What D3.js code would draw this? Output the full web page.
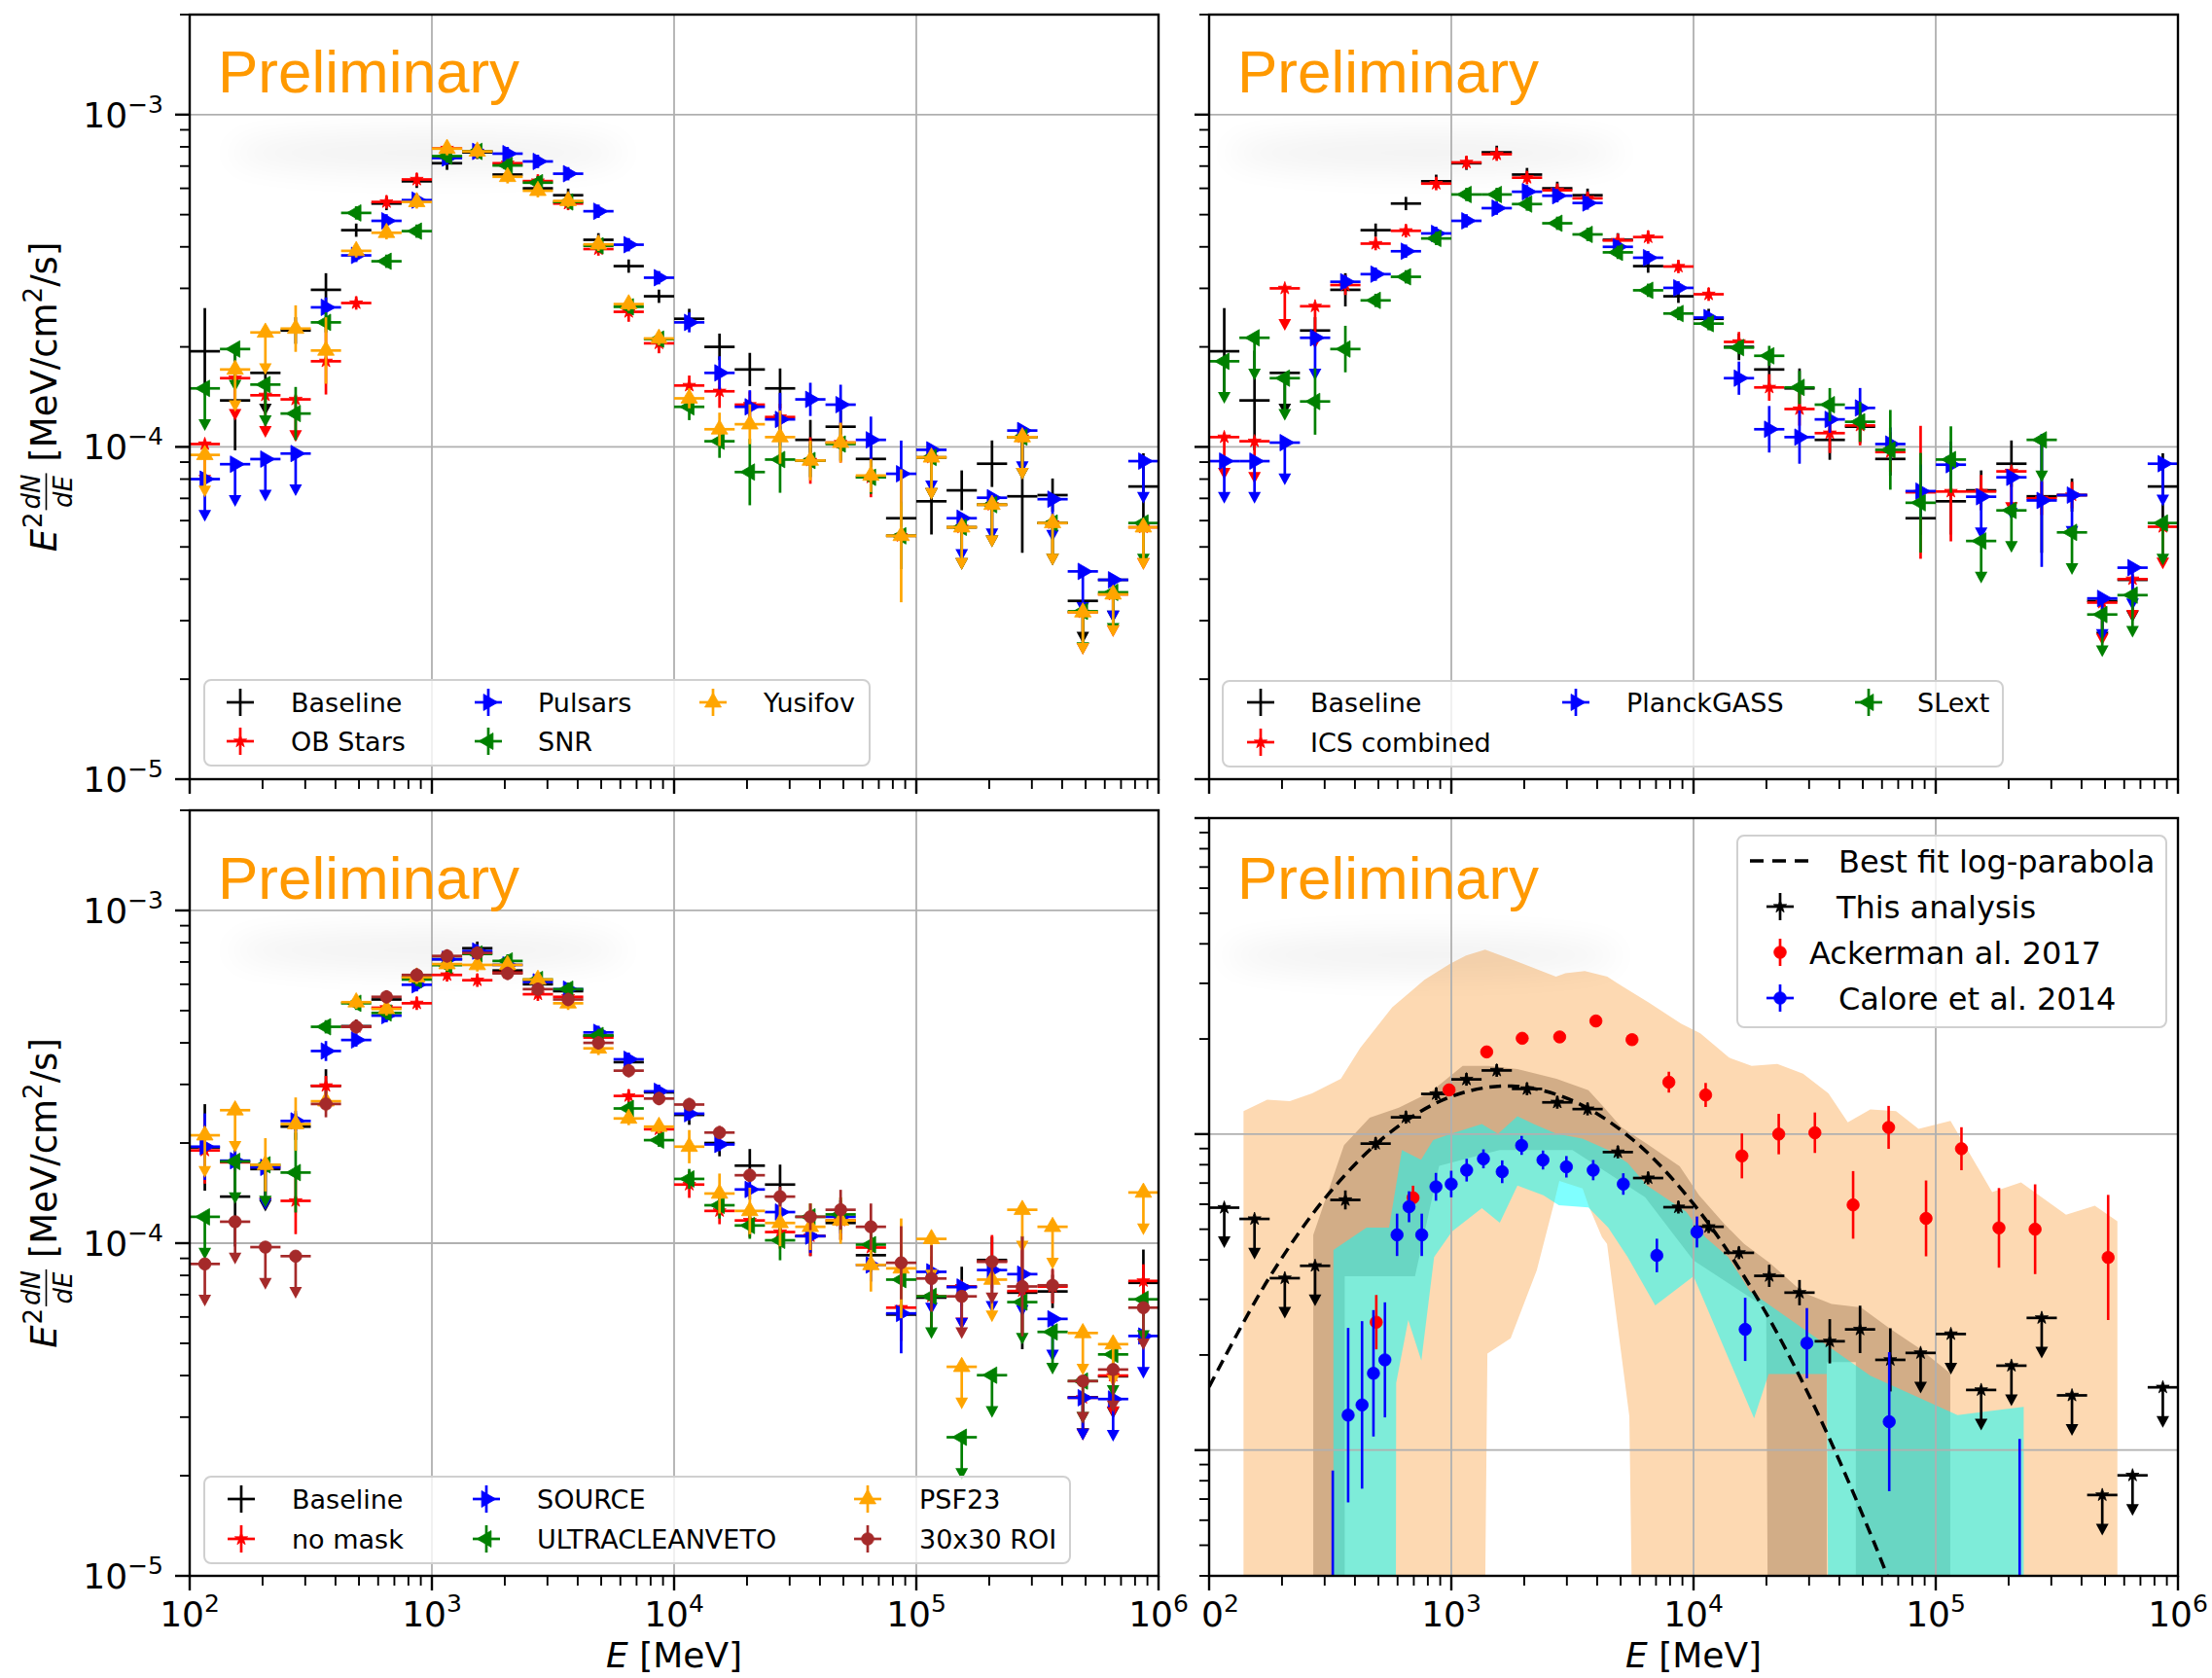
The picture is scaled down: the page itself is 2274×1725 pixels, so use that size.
<!DOCTYPE html>
<html>
<head>
<meta charset="utf-8">
<script src="https://cdn.jsdelivr.net/npm/d3@7"></script>
<style>
  body { margin: 0; background: #fff; }
  text { font-family: "DejaVu Sans", sans-serif; }
</style>
</head>
<body>
<svg id="fig"></svg>
<script>
const width = 2274, height = 1725;

// energy bins in MeV (8 per decade, 100 MeV - 1 TeV)
const binEdges = [100, 133.35, 177.83, 237.14, 316.23, 421.70, 562.34, 749.89,
  1000, 1333.5, 1778.3, 2371.4, 3162.3, 4217.0, 5623.4, 7498.9,
  10000, 13335, 17783, 23714, 31623, 42170, 56234, 74989,
  100000, 133352, 177828, 237137, 316228, 421697, 562341, 749894, 1000000];

// ---- shared baseline (E^2 dN/dE, MeV/cm2/s) ----
const baseline = [1.94e-4, 1.38e-4, 1.67e-4, 2.24e-4, 2.97e-4, 4.49e-4, 5.40e-4, 6.30e-4,
  7.14e-4, 7.70e-4, 6.60e-4, 6.00e-4, 5.72e-4, 4.20e-4, 3.50e-4, 2.84e-4,
  2.43e-4, 2.00e-4, 1.71e-4, 1.50e-4, 1.05e-4, 1.15e-4, 9.2e-5, 6.1e-5,
  6.86e-5, 7.4e-5, 8.9e-5, 7.1e-5, 7.16e-5, 3.44e-5, 3.98e-5, 7.6e-5];
const baselineErr = [0.13, 0.15, 0, 0.04, 0.05, 0.02, 0.02, 0.02,
  0.02, 0.02, 0.02, 0.02, 0.02, 0.02, 0.02, 0.02,
  0.03, 0.04, 0.05, 0.06, 0.06, 0.05, 0.05, 0.05,
  0.1, 0.06, 0.07, 0.17, 0.05, 0, 0, 0.1];
const baselineUL = [0,0,1,0,0,0,0,0, 0,0,0,0,0,0,0,0, 0,0,0,0,0,0,0,0, 0,0,0,0,0,1,1,0];

// ---- top left: source populations ----
const obStars = [1.02e-4, 1.61e-4, 1.43e-4, 1.39e-4, 1.81e-4, 2.71e-4, 5.46e-4, 6.38e-4,
  7.91e-4, 7.75e-4, 7.14e-4, 6.31e-4, 5.40e-4, 3.94e-4, 2.55e-4, 2.05e-4,
  1.53e-4, 1.47e-4, 1.34e-4, 1.23e-4, 9.1e-5, 1.03e-4, 8.1e-5, 5.4e-5,
  9.3e-5, 5.73e-5, 6.7e-5, 1.07e-4, 5.9e-5, 3.18e-5, 3.6e-5, 5.73e-5];
const obStarsErr = [0, 0, 0, 0, 0.1, 0.02, 0.02, 0.02,
  0.02, 0.02, 0.02, 0.02, 0.02, 0.02, 0.03, 0.03,
  0.03, 0.05, 0.04, 0.04, 0.07, 0.06, 0.06, 0.1,
  0, 0, 0, 0, 0, 0, 0, 0];
const obStarsUL = [1,1,1,1,0,0,0,0, 0,0,0,0,0,0,0,0, 0,0,0,0,0,0,0,0, 1,1,1,1,1,1,1,1];

const pulsars = [8.0e-5, 8.87e-5, 9.19e-5, 9.55e-5, 2.63e-4, 3.77e-4, 4.79e-4, 5.53e-4,
  7.40e-4, 7.75e-4, 7.63e-4, 7.23e-4, 6.64e-4, 5.12e-4, 4.06e-4, 3.23e-4,
  2.37e-4, 1.67e-4, 1.32e-4, 1.21e-4, 1.39e-4, 1.34e-4, 1.05e-4, 8.3e-5,
  9.8e-5, 6.1e-5, 7.03e-5, 1.12e-4, 6.96e-5, 4.22e-5, 3.98e-5, 9.06e-5];
const pulsarsErr = [0, 0, 0, 0, 0.03, 0.02, 0.02, 0.02,
  0.02, 0.02, 0.02, 0.02, 0.02, 0.02, 0.02, 0.02,
  0.03, 0.05, 0.05, 0.08, 0.05, 0.06, 0.07, 0.1,
  0, 0, 0, 0, 0, 0, 0, 0];
const pulsarsUL = [1,1,1,1,0,0,0,0, 0,0,0,0,0,0,0,0, 0,0,0,0,0,0,0,0, 1,1,1,1,1,1,1,1];

const snr = [1.5e-4, 1.97e-4, 1.54e-4, 1.26e-4, 2.37e-4, 5.06e-4, 3.62e-4, 4.46e-4,
  7.50e-4, 7.75e-4, 7.03e-4, 6.24e-4, 5.46e-4, 4.03e-4, 2.64e-4, 2.11e-4,
  1.32e-4, 1.04e-4, 8.4e-5, 9.16e-5, 9.1e-5, 1.02e-4, 8.1e-5, 5.4e-5,
  9.3e-5, 5.73e-5, 6.7e-5, 1.07e-4, 5.9e-5, 3.2e-5, 3.65e-5, 5.9e-5];
const snrErr = [0, 0, 0, 0.08, 0.03, 0.02, 0.02, 0.02,
  0.02, 0.02, 0.02, 0.02, 0.02, 0.02, 0.02, 0.02,
  0.04, 0.05, 0.1, 0.1, 0.05, 0.05, 0.05, 0.1,
  0, 0, 0, 0, 0, 0, 0, 0];
const snrUL = [1,1,1,0,0,0,0,0, 0,0,0,0,0,0,0,0, 0,0,0,0,0,0,0,0, 1,1,1,1,1,1,1,1];

const yusifov = [9.46e-5, 1.71e-4, 2.21e-4, 2.27e-4, 1.95e-4, 3.89e-4, 4.41e-4, 5.46e-4,
  7.90e-4, 7.75e-4, 6.50e-4, 5.90e-4, 5.50e-4, 4.07e-4, 2.69e-4, 2.12e-4,
  1.40e-4, 1.13e-4, 1.17e-4, 1.07e-4, 9.1e-5, 1.03e-4, 8.2e-5, 5.4e-5,
  9.3e-5, 5.73e-5, 6.7e-5, 1.07e-4, 5.9e-5, 3.18e-5, 3.6e-5, 5.73e-5];
const yusifovErr = [0, 0, 0, 0.07, 0.1, 0.02, 0.02, 0.02,
  0.02, 0.02, 0.02, 0.02, 0.02, 0.02, 0.02, 0.02,
  0.03, 0.05, 0.06, 0.08, 0.06, 0.06, 0.05, 0.2,
  0, 0, 0, 0, 0, 0, 0, 0];
const yusifovUL = [1,1,1,0,0,0,0,0, 0,0,0,0,0,0,0,0, 0,0,0,0,0,0,0,0, 1,1,1,1,1,1,1,1];

// ---- top right: gas / ICS models ----
const icsCombined = [1.07e-4, 1.04e-4, 3.0e-4, 2.65e-4, 3.07e-4, 4.09e-4, 4.47e-4, 6.20e-4,
  7.18e-4, 7.60e-4, 6.46e-4, 5.92e-4, 5.60e-4, 4.18e-4, 4.28e-4, 3.49e-4,
  2.88e-4, 2.07e-4, 1.51e-4, 1.30e-4, 1.10e-4, 1.16e-4, 9.65e-5, 7.3e-5,
  7.34e-5, 7.34e-5, 8.44e-5, 7.0e-5, 7.16e-5, 3.4e-5, 4.0e-5, 5.75e-5];
const icsErr = [0, 0, 0, 0, 0.03, 0.02, 0.02, 0.02,
  0.02, 0.02, 0.02, 0.02, 0.02, 0.02, 0.02, 0.02,
  0.02, 0.03, 0.04, 0.05, 0.06, 0.06, 0.06, 0.2,
  0.15, 0.05, 0, 0.05, 0.04, 0, 0, 0];
const icsUL = [1,1,1,1,0,0,0,0, 0,0,0,0,0,0,0,0, 0,0,0,0,0,0,0,0, 0,0,1,0,0,1,1,1];

const planckGass = [9.06e-5, 9.06e-5, 1.03e-4, 2.13e-4, 3.14e-4, 3.31e-4, 3.88e-4, 4.39e-4,
  4.79e-4, 5.23e-4, 5.86e-4, 5.70e-4, 5.42e-4, 4.00e-4, 3.71e-4, 3.01e-4,
  2.45e-4, 1.61e-4, 1.13e-4, 1.07e-4, 1.21e-4, 1.31e-4, 1.02e-4, 7.36e-5,
  8.84e-5, 7.08e-5, 8.1e-5, 6.9e-5, 7.16e-5, 3.5e-5, 4.33e-5, 8.9e-5];
const planckErr = [0, 0, 0, 0, 0.02, 0.02, 0.02, 0.02,
  0.02, 0.02, 0.02, 0.02, 0.02, 0.02, 0.02, 0.02,
  0.02, 0.05, 0.07, 0.08, 0.04, 0.06, 0.05, 0.08,
  0.07, 0, 0, 0.2, 0, 0, 0, 0];
const planckUL = [1,1,1,1,0,0,0,0, 0,0,0,0,0,0,0,0, 0,0,0,0,0,0,0,0, 0,1,1,0,1,1,1,1];

const slExt = [1.81e-4, 2.13e-4, 1.61e-4, 1.37e-4, 1.97e-4, 2.76e-4, 3.25e-4, 4.24e-4,
  5.75e-4, 5.75e-4, 5.38e-4, 4.71e-4, 4.36e-4, 3.85e-4, 2.96e-4, 2.52e-4,
  2.35e-4, 1.99e-4, 1.88e-4, 1.51e-4, 1.34e-4, 1.19e-4, 9.8e-5, 6.79e-5,
  9.16e-5, 5.21e-5, 6.44e-5, 1.05e-4, 5.53e-5, 3.13e-5, 3.58e-5, 5.9e-5];
const slErr = [0, 0, 0, 0.1, 0.07, 0.02, 0.02, 0.02,
  0.02, 0.02, 0.02, 0.02, 0.02, 0.02, 0.02, 0.02,
  0.02, 0.02, 0.03, 0.05, 0.05, 0.06, 0.12, 0.15,
  0.1, 0, 0, 0, 0, 0, 0, 0];
const slUL = [1,1,1,0,0,0,0,0, 0,0,0,0,0,0,0,0, 0,0,0,0,0,0,0,0, 0,1,1,1,1,1,1,1];

// ---- bottom left: data selection ----
const noMask = [1.9e-4, 1.75e-4, 1.7e-4, 1.34e-4, 2.97e-4, 4.47e-4, 5.10e-4, 5.26e-4,
  6.40e-4, 6.17e-4, 6.50e-4, 5.60e-4, 5.50e-4, 4.15e-4, 2.77e-4, 2.20e-4,
  1.50e-4, 1.25e-4, 1.17e-4, 1.08e-4, 1.05e-4, 1.17e-4, 9.7e-5, 6.4e-5,
  6.92e-5, 7.4e-5, 8.8e-5, 7.18e-5, 7.4e-5, 3.43e-5, 4.0e-5, 7.7e-5];
const noMaskErr = [0.1, 0.03, 0, 0.1, 0.03, 0.02, 0.02, 0.02,
  0.02, 0.02, 0.02, 0.02, 0.02, 0.02, 0.02, 0.02,
  0.04, 0.04, 0.05, 0.05, 0.06, 0.06, 0.06, 0.1,
  0.12, 0, 0.08, 0.15, 0.05, 0, 0, 0.05];
const noMaskUL = [0,0,1,0,0,0,0,0, 0,0,0,0,0,0,0,0, 0,0,0,0,0,0,0,0, 0,1,0,0,0,1,1,0];

const source = [1.95e-4, 1.77e-4, 1.69e-4, 2.33e-4, 3.78e-4, 4.08e-4, 4.83e-4, 5.98e-4,
  7.13e-4, 7.55e-4, 6.86e-4, 6.10e-4, 5.80e-4, 4.30e-4, 3.57e-4, 2.86e-4,
  2.45e-4, 1.98e-4, 1.45e-4, 1.24e-4, 1.05e-4, 1.20e-4, 8.6e-5, 6.15e-5,
  8.2e-5, 7.38e-5, 8.3e-5, 8.07e-5, 5.92e-5, 3.43e-5, 3.4e-5, 5.26e-5];
const sourceErr = [0.1, 0.03, 0, 0.03, 0.03, 0.02, 0.02, 0.02,
  0.02, 0.02, 0.02, 0.02, 0.02, 0.02, 0.02, 0.02,
  0.02, 0.02, 0.03, 0.04, 0.05, 0.05, 0.05, 0.12,
  0, 0, 0, 0, 0, 0, 0, 0];
const sourceUL = [0,0,1,0,0,0,0,0, 0,0,0,0,0,0,0,0, 0,0,0,0,0,0,0,0, 1,1,1,1,1,1,1,1];

const ultraclean = [1.2e-4, 1.76e-4, 1.72e-4, 1.63e-4, 4.47e-4, 5.26e-4, 4.92e-4, 6.20e-4,
  6.85e-4, 7.40e-4, 7.05e-4, 6.20e-4, 5.80e-4, 4.21e-4, 2.54e-4, 2.04e-4,
  1.56e-4, 1.30e-4, 1.13e-4, 1.02e-4, 1.20e-4, 1.22e-4, 9.9e-5, 7.77e-5,
  6.92e-5, 2.61e-5, 4.01e-5, 6.65e-5, 5.41e-5, 3.85e-5, 4.63e-5, 6.78e-5];
const ultracleanErr = [0, 0, 0, 0.12, 0.02, 0.02, 0.02, 0.02,
  0.02, 0.02, 0.02, 0.02, 0.02, 0.02, 0.02, 0.02,
  0.03, 0.04, 0.04, 0.06, 0.04, 0.05, 0.05, 0.1,
  0, 0, 0, 0, 0, 0, 0, 0];
const ultracleanUL = [1,1,1,0,0,0,0,0, 0,0,0,0,0,0,0,0, 0,0,0,0,0,0,0,0, 1,1,1,1,1,1,1,1];

const psf23 = [2.11e-4, 2.51e-4, 1.72e-4, 2.28e-4, 2.67e-4, 5.30e-4, 5.06e-4, 6.30e-4,
  6.90e-4, 6.86e-4, 6.86e-4, 6.20e-4, 5.26e-4, 3.85e-4, 2.37e-4, 2.24e-4,
  1.95e-4, 1.41e-4, 1.25e-4, 1.15e-4, 1.12e-4, 1.17e-4, 8.6e-5, 8.4e-5,
  1.03e-4, 4.25e-5, 7.77e-5, 1.26e-4, 1.12e-4, 5.37e-5, 4.97e-5, 1.42e-4];
const psf23Err = [0, 0, 0.08, 0.08, 0.03, 0.02, 0.02, 0.02,
  0.02, 0.02, 0.02, 0.02, 0.02, 0.02, 0.02, 0.02,
  0.05, 0.06, 0.07, 0.07, 0.07, 0.07, 0.08, 0.15,
  0, 0, 0, 0, 0, 0, 0, 0];
const psf23UL = [1,1,0,0,0,0,0,0, 0,0,0,0,0,0,0,0, 0,0,0,0,0,0,0,0, 1,1,1,1,1,1,1,1];

const roi30 = [8.66e-5, 1.16e-4, 9.73e-5, 9.14e-5, 2.62e-4, 4.47e-4, 5.50e-4, 6.40e-4,
  7.30e-4, 7.45e-4, 6.47e-4, 5.80e-4, 5.40e-4, 4.00e-4, 3.30e-4, 2.72e-4,
  2.61e-4, 2.15e-4, 1.60e-4, 1.38e-4, 1.20e-4, 1.26e-4, 1.12e-4, 8.73e-5,
  7.83e-5, 6.92e-5, 8.8e-5, 7.41e-5, 7.47e-5, 3.85e-5, 4.17e-5, 6.4e-5];
const roi30Err = [0, 0, 0, 0, 0.04, 0.02, 0.02, 0.02,
  0.02, 0.02, 0.02, 0.02, 0.02, 0.02, 0.02, 0.02,
  0.02, 0.02, 0.02, 0.03, 0.04, 0.06, 0.07, 0.11,
  0.1, 0, 0, 0.15, 0.05, 0, 0, 0];
const roi30UL = [1,1,1,1,0,0,0,0, 0,0,0,0,0,0,0,0, 0,0,0,0,0,0,0,0, 0,1,1,0,0,1,1,1];

// ---- bottom right: comparison (arbitrary flux units) ----
const thisAnalysis = [5.85e-7, 5.39e-7, 3.50e-7, 3.83e-7, 6.19e-7, 9.33e-7, 1.13e-6, 1.34e-6,
  1.49e-6, 1.59e-6, 1.39e-6, 1.26e-6, 1.20e-6, 8.77e-7, 7.26e-7, 5.87e-7,
  5.09e-7, 4.21e-7, 3.56e-7, 3.15e-7, 2.21e-7, 2.41e-7, 1.93e-7, 2.03e-7,
  2.33e-7, 1.55e-7, 1.85e-7, 2.62e-7, 1.49e-7, 7.21e-8, 8.32e-8, 1.58e-7];
const thisErr = [0, 0, 0, 0, 0.03, 0.02, 0.02, 0.02,
  0.02, 0.02, 0.02, 0.02, 0.02, 0.02, 0.02, 0.02,
  0.02, 0.02, 0.035, 0.04, 0.07, 0.075, 0.1, 0,
  0, 0, 0, 0, 0, 0, 0, 0];
const thisUL = [1,1,1,1,0,0,0,0, 0,0,0,0,0,0,0,0, 0,0,0,0,0,0,0,1, 1,1,1,1,1,1,1,1];

const ackE = [490, 695, 979, 1400, 1962, 2801, 3953, 5573, 7910, 11220,
  15840, 22480, 31700, 45590, 63900, 91200, 127700, 182400, 257200, 515000];
const ackV = [2.54e-7, 6.29e-7, 1.38e-6, 1.82e-6, 2.01e-6, 2.03e-6, 2.28e-6, 1.99e-6, 1.46e-6, 1.33e-6,
  8.53e-7, 1.0e-6, 1.01e-6, 5.97e-7, 1.05e-6, 5.41e-7, 8.99e-7, 5.05e-7, 5.0e-7, 4.07e-7];
const ackErr = [0.086, 0.038, 0, 0, 0, 0, 0, 0, 0.033, 0.038,
  0.071, 0.064, 0.064, 0.107, 0.068, 0.12, 0.068, 0.126, 0.142, 0.198];

const caloreE = [324, 375, 428, 477, 532, 597, 669, 755, 864, 999, 1157, 1357,
  1622, 1951, 2390, 2986, 3853, 5129, 7056, 10330, 16340, 29370, 64270, 222000];
const caloreV = [2.6e-8, 1.29e-7, 1.39e-7, 1.75e-7, 1.93e-7, 4.8e-7, 5.89e-7, 4.8e-7, 6.81e-7, 6.95e-7, 7.69e-7, 8.35e-7,
  7.6e-7, 9.21e-7, 8.28e-7, 7.88e-7, 7.69e-7, 6.95e-7, 4.13e-7, 4.9e-7, 2.41e-7, 2.18e-7, 1.23e-7, 3.2e-8];
const caloreErr = [0.52, 0.276, 0.265, 0.2, 0.182, 0.067, 0.049, 0.067, 0.044, 0.042, 0.036, 0.03,
  0.036, 0.03, 0.03, 0.034, 0.032, 0.034, 0.053, 0.049, 0.1, 0.111, 0.22, 0.53];

// best fit log-parabola
const fitE = [100, 177.8, 316.2, 562.3, 1000, 1778, 3162, 5623, 10000, 17783, 31623, 56234, 79433];
const fitV = [1.585e-7, 3.53e-7, 6.56e-7, 1.016e-6, 1.315e-6, 1.419e-6, 1.276e-6, 9.59e-7, 6.01e-7, 3.15e-7, 1.37e-7, 5.0e-8, 2.5e-8];

// uncertainty bands: upper and lower edges (1e-8 = below the frame)
const peachUpE = [138.7, 173.8, 215.3, 266.1, 349.9, 420.7, 570.2, 774.5, 988.6, 1151, 1380, 1816, 2704, 2958, 3556, 4406, 4831,
  6546, 8872, 10666, 14028, 17378, 22182, 28314, 36058, 43351, 53703, 68549, 84918, 115080, 171000, 224900, 345100, 453900, 562300];
const peachUpV = [1.183e-6, 1.285e-6, 1.271e-6, 1.346e-6, 1.496e-6, 1.875e-6, 2.518e-6, 3.076e-6, 3.459e-6, 3.673e-6, 3.837e-6, 3.548e-6, 3.148e-6, 3.228e-6, 3.281e-6, 3.148e-6, 3.006e-6,
  2.606e-6, 2.239e-6, 2.084e-6, 1.746e-6, 1.644e-6, 1.667e-6, 1.552e-6, 1.346e-6, 1.089e-6, 1.197e-6, 1.183e-6, 1.038e-6, 1.102e-6, 6.55e-7, 7.03e-7, 5.56e-7, 5.93e-7, 5.30e-7];
const peachLoE = [138.7, 1358, 1409, 1758, 2254, 2642, 2793, 3483, 3681, 4188, 4395, 5433, 5689, 562300];
const peachLoV = [1e-8, 1e-8, 2.02e-7, 2.26e-7, 3.71e-7, 5.96e-7, 7.11e-7, 6.73e-7, 5.96e-7, 4.72e-7, 4.49e-7, 1.28e-7, 1e-8, 1e-8];

const brownUpE = [269.2, 269.2, 360.6, 460.3, 606.7, 822.2, 1114, 1422, 1875, 2716, 3681, 4178, 5035, 6412, 8770,
  10544, 13459, 16181, 20749, 28314, 37154, 49091, 64417, 84918, 114815];
const brownUpV = [1e-8, 4.8e-7, 9.23e-7, 1.127e-6, 1.211e-6, 1.361e-6, 1.644e-6, 1.644e-6, 1.607e-6, 1.496e-6, 1.377e-6, 1.239e-6, 1.052e-6, 9.33e-7, 7.91e-7,
  6.4e-7, 5.18e-7, 4.49e-7, 3.9e-7, 3.15e-7, 2.9e-7, 2.83e-7, 2.43e-7, 2.11e-7, 1.75e-7];
const brownLoE = [269.2, 363, 363, 708, 891, 1585, 3162, 6310, 10000, 19953, 20400, 35481, 35481, 46774, 46774, 114815];
const brownLoV = [1e-8, 1e-8, 3.55e-7, 3.55e-7, 7.94e-7, 8.91e-7, 8.91e-7, 6.31e-7, 3.98e-7, 2.82e-7, 1e-8, 1e-8, 1.9e-7, 1.9e-7, 1e-8, 1e-8];

const cyanUpE = [326, 326, 446.7, 553.4, 625.2, 749.9, 841.4, 997.7, 1337, 1560, 1875, 2188, 2716, 3475, 4446, 5346,
  6427, 7745, 9311, 11194, 13900, 17100, 53703, 123000, 230700];
const cyanUpV = [1e-8, 4.3e-7, 5.06e-7, 5.06e-7, 8.91e-7, 8.3e-7, 9.57e-7, 1.002e-6, 1.076e-6, 1.002e-6, 1.140e-6, 1.076e-6, 1.002e-6, 9.68e-7, 8.91e-7, 8.11e-7,
  6.87e-7, 6.25e-7, 5.69e-7, 4.71e-7, 4.08e-7, 3.18e-7, 1.72e-7, 1.29e-7, 1.37e-7];
const cyanLoE = [326, 589, 592, 664, 752, 849, 1009, 1337, 1585, 1875, 2399, 2780, 3681, 4446, 5346, 6950, 10000,
  17783, 20417, 35481, 36300, 230700];
const cyanLoV = [1e-8, 1e-8, 1.63e-7, 2.58e-7, 1.92e-7, 4.08e-7, 4.93e-7, 5.83e-7, 5.24e-7, 6.87e-7, 6.4e-7, 5.96e-7, 5.86e-7, 5.06e-7, 4.08e-7, 2.87e-7, 3.55e-7,
  1.26e-7, 1.74e-7, 1.74e-7, 1e-8, 1e-8];

// ------------------------------------------------------------------
const svg = d3.select('#fig').attr('width', width).attr('height', height);
svg.append('rect').attr('width', width).attr('height', height).attr('fill', '#fff');
const defs = svg.append('defs');
defs.append('filter').attr('id', 'smudge')
  .attr('x', '-50%').attr('y', '-300%').attr('width', '200%').attr('height', '700%')
  .append('feGaussianBlur').attr('stdDeviation', 16);

const centers = binEdges.slice(0, -1).map((e, i) => Math.sqrt(e * binEdges[i + 1]));

const panels = {
  tl: {x: [195, 1191], y: [801, 15], yDom: [1e-5, 2e-3], xlab: false, ylab: true, prelim: [224, 95], smudge: [440, 157]},
  tr: {x: [1243, 2239], y: [801, 15], yDom: [1e-5, 2e-3], xlab: false, ylab: false, prelim: [1272, 95], smudge: [1465, 157]},
  bl: {x: [195, 1191], y: [1620, 833], yDom: [1e-5, 2e-3], xlab: true, ylab: true, prelim: [224, 924], smudge: [440, 977]},
  br: {x: [1243, 2239], y: [1620, 841], yDom: [4e-8, 1e-5], xlab: true, ylab: false, prelim: [1272, 924], smudge: [1462, 982]}
};

Object.entries(panels).forEach(([k, p]) => {
  p.xs = d3.scaleLog().domain([1e2, 1e6]).range(p.x);
  p.ys = d3.scaleLog().domain(p.yDom).range(p.y);
  defs.append('clipPath').attr('id', 'clip-' + k).append('rect')
    .attr('x', p.x[0]).attr('y', p.y[1]).attr('width', p.x[1] - p.x[0]).attr('height', p.y[0] - p.y[1]);
  p.g = svg.append('g');
  p.back = p.g.append('g').attr('clip-path', `url(#clip-${k})`);
  p.gridG = p.g.append('g');
  p.data = p.g.append('g').attr('clip-path', `url(#clip-${k})`);
  p.front = p.g.append('g');
});

function decades(dom) {
  const out = [];
  for (let k = Math.ceil(Math.log10(dom[0]) - 1e-9); k <= Math.floor(Math.log10(dom[1]) + 1e-9); k++) out.push(Math.pow(10, k));
  return out;
}
function minors(dom) {
  const out = [];
  for (let k = Math.floor(Math.log10(dom[0]) + 1e-9); k <= Math.floor(Math.log10(dom[1]) + 1e-9); k++) {
    for (let m = 2; m <= 9; m++) {
      const v = m * Math.pow(10, k);
      if (v >= dom[0] * 0.999 && v <= dom[1] * 1.001) out.push(v);
    }
  }
  return out;
}
function line(g, x1, y1, x2, y2, color, w) {
  return g.append('line').attr('x1', x1).attr('y1', y1).attr('x2', x2).attr('y2', y2)
    .attr('stroke', color).attr('stroke-width', w || 2.7);
}
function marker(g, cx, cy, type, color) {
  if (!type) return;
  let sym, size, rot = 0;
  if (type === '*') { sym = d3.symbolStar; size = 55; }
  else if (type === '^') { sym = d3.symbolTriangle; size = 125; }
  else if (type === '>') { sym = d3.symbolTriangle; size = 125; rot = 90; }
  else if (type === '<') { sym = d3.symbolTriangle; size = 125; rot = -90; }
  else if (type === 'o') { sym = d3.symbolCircle; size = 125; }
  g.append('path').attr('d', d3.symbol(sym, size)())
    .attr('transform', `translate(${cx},${cy}) rotate(${rot})`)
    .attr('fill', color).attr('stroke', color).attr('stroke-width', 0.8);
}
function caret(g, cx, tip, color) {
  g.append('path').attr('d', `M${cx - 6.5},${tip - 11}L${cx + 6.5},${tip - 11}L${cx},${tip + 1}Z`).attr('fill', color);
}

// binned series with horizontal bars and upper limits
function drawBinned(p, s) {
  const g = p.data.append('g');
  s.v.forEach((v, i) => {
    const cx = p.xs(centers[i]), cy = p.ys(v);
    line(g, p.xs(binEdges[i]), cy, p.xs(binEdges[i + 1]), cy, s.color);
    if (s.ul[i]) {
      const tip = p.ys(v * 0.75);
      line(g, cx, cy, cx, tip - 6, s.color);
      caret(g, cx, tip, s.color);
    } else if (s.e[i] > 0) {
      const f = Math.pow(10, s.e[i]);
      line(g, cx, p.ys(v * f), cx, p.ys(v / f), s.color);
    }
  });
  s.v.forEach((v, i) => marker(g, p.xs(centers[i]), p.ys(v), s.marker, s.color));
}

// points with vertical error bars only
function drawPoints(p, E, V, err, color) {
  const g = p.data.append('g');
  V.forEach((v, i) => {
    const f = Math.pow(10, err[i]);
    if (err[i] > 0) line(g, p.xs(E[i]), p.ys(v * f), p.xs(E[i]), p.ys(v / f), color, 2.6);
  });
  V.forEach((v, i) => marker(g, p.xs(E[i]), p.ys(v), 'o', color));
}

function band(p, upE, upV, loE, loV, fill) {
  const pts = upE.map((e, i) => [p.xs(e), p.ys(upV[i])])
    .concat(loE.map((e, i) => [p.xs(e), p.ys(loV[i])]).reverse());
  p.back.append('path').attr('d', 'M' + pts.map(q => q.join(',')).join('L') + 'Z').attr('fill', fill);
}

function powLabel(g, x, y, base, exp, anchor) {
  const t = g.append('text').attr('x', x).attr('y', y).attr('font-size', 36).attr('text-anchor', anchor);
  t.append('tspan').text(base);
  t.append('tspan').attr('dy', -15).attr('font-size', 25).text(exp);
  return t;
}

function frame(p, key) {
  // grid
  const gg = p.gridG.attr('stroke', '#b0b0b0').attr('stroke-width', 1.8);
  [1e3, 1e4, 1e5].forEach(v => gg.append('line').attr('x1', p.xs(v)).attr('x2', p.xs(v)).attr('y1', p.y[0]).attr('y2', p.y[1]));
  decades(p.yDom).forEach(v => gg.append('line').attr('x1', p.x[0]).attr('x2', p.x[1]).attr('y1', p.ys(v)).attr('y2', p.ys(v)));

  const f = p.front;
  decades([1e2, 1e6]).forEach(v => line(f, p.xs(v), p.y[0], p.xs(v), p.y[0] + 15, '#000', 2.4));
  minors([1e2, 1e6]).forEach(v => line(f, p.xs(v), p.y[0], p.xs(v), p.y[0] + 10, '#000', 1.9));
  decades(p.yDom).forEach(v => line(f, p.x[0] - 15, p.ys(v), p.x[0], p.ys(v), '#000', 2.4));
  minors(p.yDom).forEach(v => line(f, p.x[0] - 10, p.ys(v), p.x[0], p.ys(v), '#000', 1.9));
  f.append('rect').attr('x', p.x[0]).attr('y', p.y[1]).attr('width', p.x[1] - p.x[0]).attr('height', p.y[0] - p.y[1])
    .attr('fill', 'none').attr('stroke', '#000').attr('stroke-width', 2.4);

  if (p.xlab) {
    [2, 3, 4, 5, 6].forEach(k => {
      if (key === 'br' && k === 2) {
        // the leading "1" of this label is hidden behind the neighbour's 10^6 in the original
        powLabel(f, 1235, p.y[0] + 52, '0', '2', 'start');
      } else {
        powLabel(f, p.xs(Math.pow(10, k)), p.y[0] + 52, '10', String(k), 'middle');
      }
    });
    const t = f.append('text').attr('x', (p.x[0] + p.x[1]) / 2).attr('y', 1714)
      .attr('font-size', 36).attr('text-anchor', 'middle');
    t.append('tspan').attr('font-style', 'italic').text('E');
    t.append('tspan').text(' [MeV]');
  }
  if (p.ylab) {
    decades(p.yDom).forEach(v => powLabel(f, p.x[0] - 27, p.ys(v) + 13, '10', '\u2212' + String(-Math.round(Math.log10(v))), 'end'));
    yLabel(f, (p.y[0] + p.y[1]) / 2);
  }

  // watermark
  p.back.append('ellipse').attr('cx', p.smudge[0]).attr('cy', p.smudge[1]).attr('rx', 205).attr('ry', 20)
    .attr('fill', '#000').attr('opacity', 0.05).attr('filter', 'url(#smudge)');
  f.append('text').attr('x', p.prelim[0]).attr('y', p.prelim[1])
    .style('font-family', '"Liberation Sans", Arial, sans-serif')
    .attr('font-size', 62).attr('fill', '#ff9900').text('Preliminary');
}

function yLabel(f, cy) {
  const g = f.append('g').attr('transform', `translate(58,${cy}) rotate(-90)`);
  const parts = g.append('g');
  let x = 0;
  const e1 = parts.append('text').attr('x', x).attr('y', 0).attr('font-size', 37).attr('font-style', 'italic').text('E');
  x += e1.node().getComputedTextLength() + 1;
  const s1 = parts.append('text').attr('x', x).attr('y', -15).attr('font-size', 26).text('2');
  x += s1.node().getComputedTextLength() + 2;
  const num = parts.append('text').attr('y', -17).attr('font-size', 26).attr('font-style', 'italic').text('dN');
  const den = parts.append('text').attr('y', 16).attr('font-size', 26).attr('font-style', 'italic').text('dE');
  const nw = num.node().getComputedTextLength(), dw = den.node().getComputedTextLength();
  const fw = Math.max(nw, dw) + 2;
  num.attr('x', x + (fw - nw) / 2);
  den.attr('x', x + (fw - dw) / 2);
  parts.append('line').attr('x1', x).attr('x2', x + fw).attr('y1', -10.5).attr('y2', -10.5)
    .attr('stroke', '#000').attr('stroke-width', 1.6);
  x += fw;
  const rest = parts.append('text').attr('x', x).attr('y', 0).attr('font-size', 37);
  rest.append('tspan').text('\u00a0[MeV/cm');
  rest.append('tspan').attr('dy', -15).attr('font-size', 26).text('2');
  rest.append('tspan').attr('dy', 15).text('/s]');
  x += rest.node().getComputedTextLength();
  parts.attr('transform', `translate(${-x / 2},0)`);
}

function legend(p, box, font, entries) {
  const g = p.front.append('g');
  g.append('rect').attr('x', box[0]).attr('y', box[1]).attr('width', box[2] - box[0]).attr('height', box[3] - box[1])
    .attr('rx', 7).attr('fill', '#fff').attr('fill-opacity', 0.8).attr('stroke', '#d0d0d0').attr('stroke-width', 2);
  entries.forEach(en => {
    const c = en.color;
    if (en.kind === 'dash') {
      line(g, en.hx - 31, en.y, en.hx + 31, en.y, c, 3.5).attr('stroke-dasharray', '14,9');
    } else {
      if (en.kind !== 'vonly') line(g, en.hx - 14, en.y, en.hx + 14, en.y, c);
      line(g, en.hx, en.y - 14, en.hx, en.y + 14, c);
      marker(g, en.hx, en.y, en.marker, c);
    }
    g.append('text').attr('x', en.tx).attr('y', en.y + font * 0.36).attr('font-size', font).text(en.label);
  });
}

// ---- top left ----
const tl = panels.tl;
const tlSeries = [
  {v: baseline, e: baselineErr, ul: baselineUL, color: '#000', marker: null},
  {v: obStars, e: obStarsErr, ul: obStarsUL, color: '#ff0000', marker: '*'},
  {v: pulsars, e: pulsarsErr, ul: pulsarsUL, color: '#0000ff', marker: '>'},
  {v: snr, e: snrErr, ul: snrUL, color: '#008000', marker: '<'},
  {v: yusifov, e: yusifovErr, ul: yusifovUL, color: '#ffa500', marker: '^'}
];
frame(tl, 'tl');
tlSeries.forEach(s => drawBinned(tl, s));
legend(tl, [210, 699, 894, 787], 27, [
  {label: 'Baseline', color: '#000', marker: null, hx: 247, tx: 299, y: 722},
  {label: 'OB Stars', color: '#ff0000', marker: '*', hx: 247, tx: 299, y: 762},
  {label: 'Pulsars', color: '#0000ff', marker: '>', hx: 502, tx: 553, y: 722},
  {label: 'SNR', color: '#008000', marker: '<', hx: 502, tx: 553, y: 762},
  {label: 'Yusifov', color: '#ffa500', marker: '^', hx: 733, tx: 785, y: 722}
]);

// ---- top right ----
const tr = panels.tr;
const trSeries = [
  {v: baseline, e: baselineErr, ul: baselineUL, color: '#000', marker: null},
  {v: icsCombined, e: icsErr, ul: icsUL, color: '#ff0000', marker: '*'},
  {v: planckGass, e: planckErr, ul: planckUL, color: '#0000ff', marker: '>'},
  {v: slExt, e: slErr, ul: slUL, color: '#008000', marker: '<'}
];
frame(tr, 'tr');
trSeries.forEach(s => drawBinned(tr, s));
legend(tr, [1257, 700, 2059, 788], 27, [
  {label: 'Baseline', color: '#000', marker: null, hx: 1296, tx: 1347, y: 722},
  {label: 'ICS combined', color: '#ff0000', marker: '*', hx: 1296, tx: 1347, y: 763},
  {label: 'PlanckGASS', color: '#0000ff', marker: '>', hx: 1620, tx: 1672, y: 722},
  {label: 'SLext', color: '#008000', marker: '<', hx: 1921, tx: 1971, y: 722}
]);

// ---- bottom left ----
const bl = panels.bl;
const blSeries = [
  {v: baseline, e: baselineErr, ul: baselineUL, color: '#000', marker: null},
  {v: noMask, e: noMaskErr, ul: noMaskUL, color: '#ff0000', marker: '*'},
  {v: source, e: sourceErr, ul: sourceUL, color: '#0000ff', marker: '>'},
  {v: ultraclean, e: ultracleanErr, ul: ultracleanUL, color: '#008000', marker: '<'},
  {v: psf23, e: psf23Err, ul: psf23UL, color: '#ffa500', marker: '^'},
  {v: roi30, e: roi30Err, ul: roi30UL, color: '#a52a2a', marker: 'o'}
];
frame(bl, 'bl');
blSeries.forEach(s => drawBinned(bl, s));
legend(bl, [210, 1518, 1100, 1607], 27, [
  {label: 'Baseline', color: '#000', marker: null, hx: 248, tx: 300, y: 1541},
  {label: 'no mask', color: '#ff0000', marker: '*', hx: 248, tx: 300, y: 1582},
  {label: 'SOURCE', color: '#0000ff', marker: '>', hx: 500, tx: 552, y: 1541},
  {label: 'ULTRACLEANVETO', color: '#008000', marker: '<', hx: 500, tx: 552, y: 1582},
  {label: 'PSF23', color: '#ffa500', marker: '^', hx: 892, tx: 945, y: 1541},
  {label: '30x30 ROI', color: '#a52a2a', marker: 'o', hx: 892, tx: 945, y: 1582}
]);

// ---- bottom right ----
const br = panels.br;
band(br, peachUpE, peachUpV, peachLoE, peachLoV, '#fdd9b2');
band(br, brownUpE, brownUpV, brownLoE, brownLoV, '#d2ad87');
band(br, cyanUpE, cyanUpV, cyanLoE, cyanLoV, 'rgba(0,255,255,0.5)');
frame(br, 'br');
br.data.append('path')
  .attr('d', d3.line().x((d, i) => br.xs(fitE[i])).y(d => br.ys(d)).curve(d3.curveCatmullRom)(fitV))
  .attr('fill', 'none').attr('stroke', '#000').attr('stroke-width', 3.5).attr('stroke-dasharray', '12,7');
drawBinned(br, {v: thisAnalysis, e: thisErr, ul: thisUL, color: '#000', marker: '*'});
drawPoints(br, ackE, ackV, ackErr, '#ff0000');
drawPoints(br, caloreE, caloreV, caloreErr, '#0000ff');
legend(br, [1786, 859, 2227, 1056], 32, [
  {label: 'Best fit log-parabola', color: '#000', kind: 'dash', hx: 1830, tx: 1890, y: 885},
  {label: 'This analysis', color: '#000', marker: '*', hx: 1830, tx: 1888, y: 932},
  {label: 'Ackerman al. 2017', color: '#ff0000', marker: 'o', kind: 'vonly', hx: 1830, tx: 1860, y: 979},
  {label: 'Calore et al. 2014', color: '#0000ff', marker: 'o', hx: 1830, tx: 1890, y: 1026}
]);
</script>
</body>
</html>
